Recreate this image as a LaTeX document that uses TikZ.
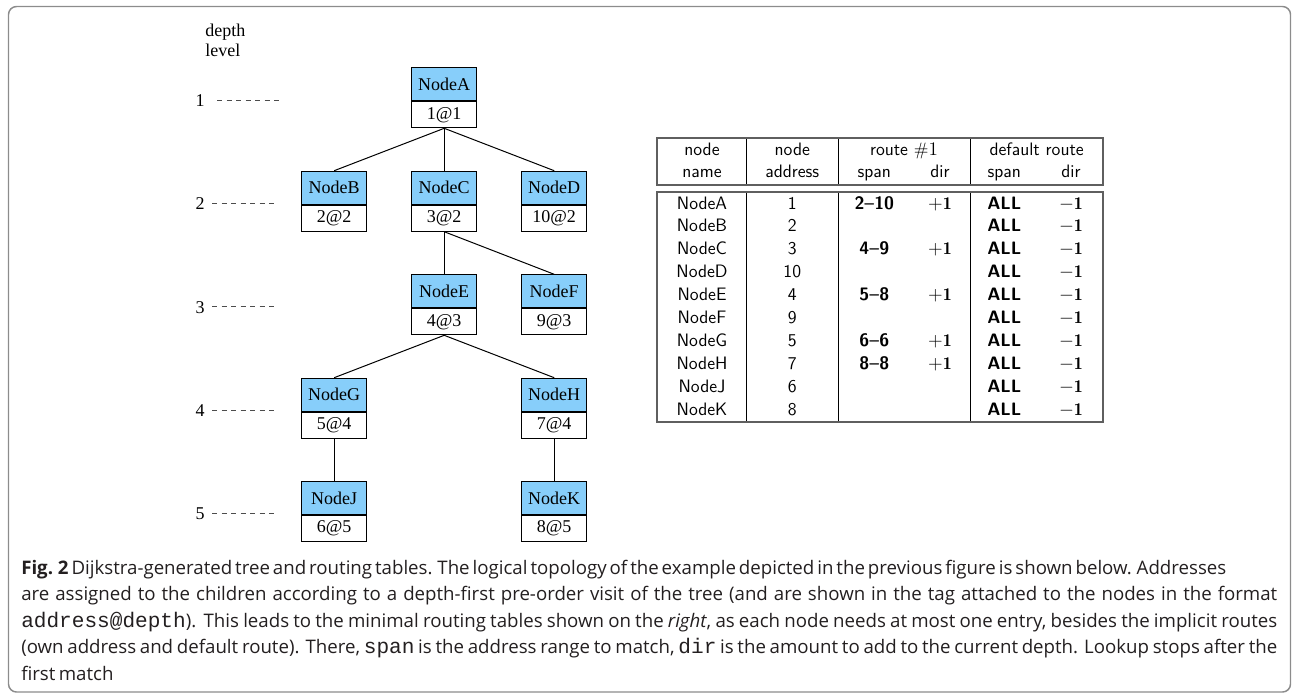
\documentclass[tikz,border=0pt]{standalone}
\usepackage{fontspec}
\newfontfamily\treefont{Liberation Serif}
\newfontfamily\capfont{Open Sans}[WordSpace=0.7]
\newfontfamily\capmono{Liberation Mono}[Scale=1.13]
\definecolor{nodeblue}{RGB}{135,206,250}
\definecolor{captext}{RGB}{35,31,32}
\definecolor{framec}{RGB}{140,140,140}
\definecolor{tabframe}{RGB}{95,95,95}
\newcommand{\capjust}[2]{\makebox[#1][s]{#2}}
\begin{document}
\begin{tikzpicture}[x=0.75pt,y=-0.75pt,
  treetext/.style={font=\treefont\fontsize{13.5}{16}\selectfont},
  namebox/.style={treetext, draw, line width=0.75pt, fill=nodeblue, minimum width=48.75pt, minimum height=24.75pt, inner sep=0pt, anchor=north},
  tagbox/.style={treetext, draw, line width=0.75pt, fill=white, minimum width=48.75pt, minimum height=19.5pt, inner sep=0pt, anchor=north},
  edge/.style={line width=0.75pt},
  levdash/.style={line width=0.75pt, draw=black!70, dash pattern=on 3.75pt off 3.4pt},
  lvl/.style={treetext, inner sep=0pt},
  tcell/.style={font=\sffamily\fontsize{13.5}{16}\selectfont, anchor=base, inner sep=0pt},
  vline/.style={line width=0.75pt},
  tbox/.style={draw=tabframe, line width=1.3pt},
  capline/.style={anchor=base west, inner sep=0pt, font=\capfont\fontsize{14}{20}\selectfont, text=captext}]
\useasboundingbox (0,0) rectangle (1292,693);
\draw[framec, line width=1.1pt, rounded corners=6pt] (8.5,6.5) rectangle (1290.5,692);

% depth level labels
\node[lvl, anchor=base west] (dep) at (205,36) {depth};
\node[lvl, anchor=base west] (lev) at (205,56) {level};
\node[lvl] (l1) at (200,100.5) {1};
\node[lvl] (l2) at (200,203.8) {2};
\node[lvl] (l3) at (200,307.2) {3};
\node[lvl] (l4) at (200,410.5) {4};
\node[lvl] (l5) at (200,513.8) {5};
\coordinate (d1s) at (217,100);   \coordinate (d1e) at (283,100);
\coordinate (d2s) at (212,203.3); \coordinate (d2e) at (277,203.3);
\coordinate (d3s) at (212,306.7); \coordinate (d3e) at (277,306.7);
\coordinate (d4s) at (212,410);   \coordinate (d4e) at (277,410);
\coordinate (d5s) at (212,513.3); \coordinate (d5e) at (277,513.3);
\foreach \k in {1,...,5} {\draw[levdash] (d\k s) -- (d\k e);}

% tree nodes
\node[namebox] (nA) at (444.2,67.3) {NodeA};  \node[tagbox] (tA) at (nA.south) {1@1};
\node[namebox] (nB) at (334.2,170.7) {NodeB}; \node[tagbox] (tB) at (nB.south) {2@2};
\node[namebox] (nC) at (444.2,170.7) {NodeC}; \node[tagbox] (tC) at (nC.south) {3@2};
\node[namebox] (nD) at (554.2,170.7) {NodeD}; \node[tagbox] (tD) at (nD.south) {10@2};
\node[namebox] (nE) at (444.2,274.3) {NodeE}; \node[tagbox] (tE) at (nE.south) {4@3};
\node[namebox] (nF) at (554.2,274.3) {NodeF}; \node[tagbox] (tF) at (nF.south) {9@3};
\node[namebox] (nG) at (334.2,377.7) {NodeG}; \node[tagbox] (tG) at (nG.south) {5@4};
\node[namebox] (nH) at (554.2,377.7) {NodeH}; \node[tagbox] (tH) at (nH.south) {7@4};
\node[namebox] (nJ) at (334.2,481) {NodeJ};   \node[tagbox] (tJ) at (nJ.south) {6@5};
\node[namebox] (nK) at (554.2,481) {NodeK};   \node[tagbox] (tK) at (nK.south) {8@5};

\draw[edge] (tA.south) -- (nB.north);
\draw[edge] (tA.south) -- (nC.north);
\draw[edge] (tA.south) -- (nD.north);
\draw[edge] (tC.south) -- (nE.north);
\draw[edge] (tC.south) -- (nF.north);
\draw[edge] (tE.south) -- (nG.north);
\draw[edge] (tE.south) -- (nH.north);
\draw[edge] (tG.south) -- (nJ.north);
\draw[edge] (tH.south) -- (nK.north);

% table
\foreach \xx in {746.7,838.3,970} {
  \draw[vline] (\xx,138.3) -- (\xx,185);
  \draw[vline] (\xx,191.7) -- (\xx,422.3);
}
\draw[tbox] (657.3,138.3) rectangle (1103.3,185);
\draw[tbox] (657.3,191.7) rectangle (1103.3,422.3);

\node[tcell] (h1a) at (702,155) {node};
\node[tcell] (h1b) at (702,177.7) {name};
\node[tcell] (h2a) at (792.3,155) {node};
\node[tcell] (h2b) at (792.3,177.7) {address};
\node[tcell] (h3a) at (904,155) {route $\#1$};
\node[tcell] (h3b) at (874.3,177.7) {span};
\node[tcell] (h3c) at (940,177.7) {dir};
\node[tcell] (h4a) at (1036.7,155) {default route};
\node[tcell] (h4b) at (1004.3,177.7) {span};
\node[tcell] (h4c) at (1071,177.7) {dir};

\foreach \nm/\ad [count=\i] in {NodeA/1,NodeB/2,NodeC/3,NodeD/10,NodeE/4,NodeF/9,NodeG/5,NodeH/7,NodeJ/6,NodeK/8} {
  \pgfmathsetmacro\yy{209+22.9*(\i-1)}
  \node[tcell] (rn\i) at (702,\yy) {\nm};
  \node[tcell] (ra\i) at (792.3,\yy) {\ad};
  \node[tcell] (rs\i) at (1004.3,\yy) {\bfseries ALL};
  \node[tcell] (rd\i) at (1071,\yy) {$-\mathbf{1}$};
}
\node[tcell] (s1) at (874.3,209) {\bfseries 2--10};
\node[tcell] (p1) at (940,209) {$+\mathbf{1}$};
\node[tcell] (s3) at (874.3,254.8) {\bfseries 4--9};
\node[tcell] (p3) at (940,254.8) {$+\mathbf{1}$};
\node[tcell] (s5) at (874.3,300.6) {\bfseries 5--8};
\node[tcell] (p5) at (940,300.6) {$+\mathbf{1}$};
\node[tcell] (s7) at (874.3,346.4) {\bfseries 6--6};
\node[tcell] (p7) at (940,346.4) {$+\mathbf{1}$};
\node[tcell] (s8) at (874.3,369.3) {\bfseries 8--8};
\node[tcell] (p8) at (940,369.3) {$+\mathbf{1}$};

% caption
\node[capline] (cap1) at (21,574) {\capjust{903.75pt}{\textbf{Fig. 2} Dijkstra-generated tree and routing tables. The logical topology of the example depicted in the previous figure is shown below. Addresses}};
\node[capline] (cap2) at (21,600.6) {\capjust{942pt}{are assigned to the children according to a depth-first pre-order visit of the tree (and are shown in the tag attached to the nodes in the format}};
\node[capline] (cap3) at (21,627.2) {\capjust{942pt}{{\capmono address@depth}). This leads to the minimal routing tables shown on the \textit{right}, as each node needs at most one entry, besides the implicit routes}};
\node[capline] (cap4) at (21,653.8) {\capjust{942pt}{(own address and default route). There, {\capmono span} is the address range to match, {\capmono dir} is the amount to add to the current depth. Lookup stops after the}};
\node[capline] (cap5) at (21,680.4) {first match};
\end{tikzpicture}
\end{document}
